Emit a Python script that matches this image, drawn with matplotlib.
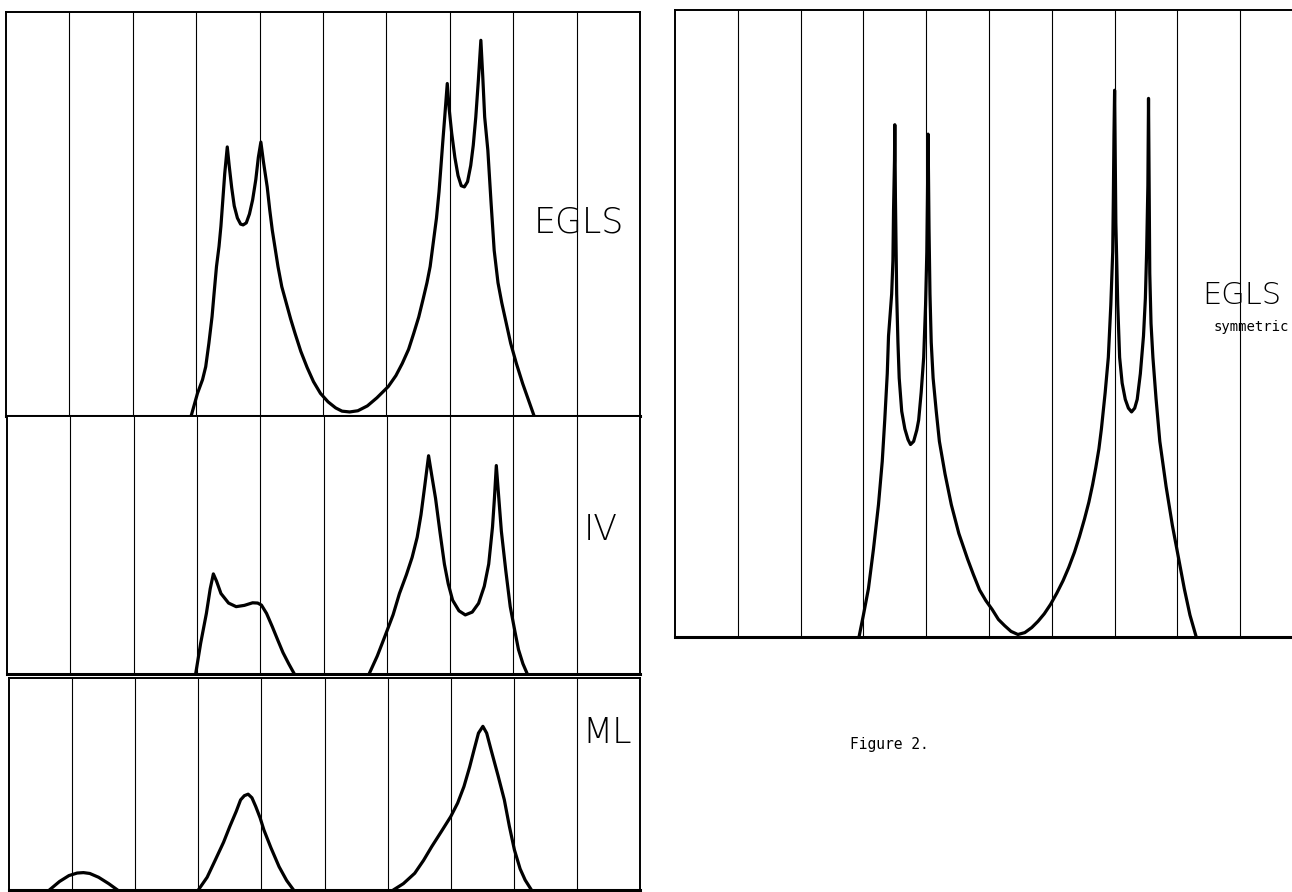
import matplotlib
matplotlib.use('Agg')
import matplotlib.pyplot as plt

# x in grid units (10 columns per panel), y as fraction of panel height

# --- EGLS (top left) ---
egls_x = [2.92, 3.02, 3.10, 3.15, 3.20, 3.25, 3.28, 3.32, 3.36, 3.39, 3.42, 3.45, 3.49,
          3.52, 3.56, 3.60, 3.65, 3.70, 3.74, 3.79, 3.84, 3.89, 3.94, 3.98, 4.02,
          4.06, 4.12, 4.16, 4.20, 4.25, 4.29, 4.35, 4.42, 4.49, 4.56, 4.65, 4.75, 4.85, 4.96,
          5.08, 5.20, 5.30, 5.42, 5.55, 5.70, 5.85, 6.03, 6.15, 6.25, 6.35, 6.43, 6.51, 6.58,
          6.64, 6.69, 6.74, 6.79, 6.83, 6.86, 6.89, 6.92, 6.96,
          6.99, 7.03, 7.08, 7.13, 7.18, 7.23, 7.28, 7.33, 7.37, 7.41, 7.45, 7.49,
          7.52, 7.55, 7.60, 7.65, 7.70, 7.76, 7.82, 7.89, 7.96, 8.05, 8.15, 8.24, 8.33]
egls_y = [0.0, 0.056, 0.09, 0.122, 0.18, 0.246, 0.30, 0.37, 0.42, 0.47, 0.535, 0.60, 0.666,
          0.62, 0.565, 0.52, 0.49, 0.475, 0.473, 0.478, 0.50, 0.535, 0.585, 0.64, 0.678,
          0.63, 0.567, 0.51, 0.46, 0.41, 0.37, 0.32, 0.28, 0.24, 0.204, 0.16, 0.12, 0.085, 0.056,
          0.035, 0.02, 0.012, 0.01, 0.013, 0.025, 0.045, 0.073, 0.10, 0.13, 0.165, 0.204, 0.245, 0.29,
          0.33, 0.37, 0.43, 0.49, 0.555, 0.617, 0.68, 0.74, 0.823,
          0.76, 0.70, 0.64, 0.595, 0.57, 0.567, 0.58, 0.62, 0.67, 0.74, 0.83, 0.93,
          0.84, 0.74, 0.658, 0.53, 0.41, 0.33, 0.28, 0.23, 0.18, 0.13, 0.08, 0.04, 0.0]

# --- IV (middle left) ---
iv1_x = [2.98, 3.06, 3.15, 3.21, 3.26, 3.31, 3.38, 3.50, 3.62, 3.75, 3.88, 3.96, 4.02, 4.10,
         4.19, 4.28, 4.36, 4.45, 4.54]
iv1_y = [0.0, 0.12, 0.235, 0.33, 0.388, 0.36, 0.312, 0.275, 0.261, 0.266, 0.276, 0.275, 0.267, 0.235,
         0.184, 0.13, 0.083, 0.04, 0.0]
iv2_x = [5.72, 5.85, 5.97, 6.10, 6.20, 6.31, 6.40, 6.48, 6.54, 6.60, 6.66, 6.71, 6.77, 6.84,
         6.91, 6.97, 7.04, 7.14, 7.24, 7.35, 7.45, 7.54, 7.61, 7.67, 7.70, 7.73, 7.77, 7.81,
         7.88, 7.95, 8.02, 8.08, 8.15, 8.22]
iv2_y = [0.0, 0.07, 0.146, 0.23, 0.312, 0.385, 0.452, 0.53, 0.617, 0.73, 0.846, 0.77, 0.681, 0.55,
         0.426, 0.35, 0.286, 0.245, 0.229, 0.24, 0.274, 0.34, 0.426, 0.57, 0.68, 0.808, 0.68, 0.553,
         0.40, 0.261, 0.17, 0.095, 0.04, 0.0]

# --- ML (bottom left) ---
ml1_x = [0.48, 0.64, 0.80, 0.95, 1.08, 1.18, 1.28, 1.42, 1.58, 1.72, 1.85]
ml1_y = [-0.05, 0.0, 0.04, 0.068, 0.08, 0.082, 0.078, 0.06, 0.03, 0.0, -0.04]
ml2_x = [3.00, 3.14, 3.27, 3.40, 3.50, 3.60, 3.67, 3.73, 3.79, 3.85, 3.91, 3.98, 4.04, 4.15,
         4.28, 4.40, 4.51]
ml2_y = [0.0, 0.06, 0.142, 0.225, 0.30, 0.37, 0.425, 0.445, 0.452, 0.435, 0.394, 0.34, 0.283, 0.20,
         0.11, 0.045, 0.0]
ml3_x = [6.09, 6.25, 6.43, 6.57, 6.70, 6.85, 7.00, 7.11, 7.21, 7.30, 7.37, 7.44, 7.51, 7.57,
         7.64, 7.75, 7.85, 7.93, 8.01, 8.10, 8.18, 8.28]
ml3_y = [0.0, 0.03, 0.079, 0.14, 0.205, 0.275, 0.346, 0.41, 0.488, 0.58, 0.661, 0.74, 0.772, 0.74,
         0.661, 0.54, 0.425, 0.30, 0.189, 0.10, 0.047, 0.0]

# --- EGLS symmetric (right) ---
sym_x = [2.93, 3.00, 3.08, 3.16, 3.24, 3.30, 3.34, 3.38, 3.40, 3.43, 3.45, 3.47, 3.48, 3.495,
         3.50, 3.51, 3.53, 3.55, 3.57, 3.61, 3.66, 3.71, 3.75, 3.80, 3.85, 3.88, 3.92, 3.96,
         3.99, 4.01, 4.02, 4.03, 4.045, 4.06, 4.08, 4.11, 4.16, 4.21, 4.30, 4.40, 4.52, 4.66,
         4.75, 4.85, 4.95, 5.05, 5.15, 5.25, 5.35, 5.46, 5.57, 5.68, 5.78, 5.88, 5.98, 6.08,
         6.18, 6.27, 6.36, 6.44, 6.52, 6.59, 6.65, 6.70, 6.75, 6.79, 6.85, 6.90,
         6.94, 6.97, 6.98, 6.99, 7.00, 7.02, 7.05, 7.08, 7.12, 7.17, 7.22, 7.27, 7.32, 7.36,
         7.41, 7.46, 7.49, 7.51, 7.53, 7.54, 7.55, 7.56, 7.58, 7.61, 7.66, 7.72, 7.82, 7.92,
         8.02, 8.11, 8.20, 8.30]
sym_y = [0.0, 0.035, 0.077, 0.14, 0.211, 0.28, 0.346, 0.42, 0.48, 0.52, 0.547, 0.60, 0.681, 0.76,
         0.817, 0.70, 0.547, 0.47, 0.413, 0.36, 0.332, 0.315, 0.307, 0.312, 0.33, 0.346, 0.39, 0.446,
         0.53, 0.614, 0.70, 0.802, 0.65, 0.547, 0.47, 0.413, 0.36, 0.312, 0.26, 0.211, 0.165, 0.124,
         0.10, 0.075, 0.058, 0.044, 0.028, 0.018, 0.009, 0.004, 0.007, 0.015, 0.025, 0.037, 0.052, 0.07,
         0.09, 0.111, 0.135, 0.16, 0.188, 0.215, 0.243, 0.27, 0.30, 0.332, 0.39, 0.446,
         0.53, 0.614, 0.70, 0.80, 0.872, 0.66, 0.53, 0.446, 0.405, 0.379, 0.365, 0.359, 0.365, 0.379,
         0.42, 0.48, 0.54, 0.614, 0.72, 0.859, 0.72, 0.58, 0.50, 0.446, 0.38, 0.312, 0.24, 0.178,
         0.125, 0.077, 0.035, 0.0]

LINE_KW = dict(color='black', lw=2.3, solid_capstyle='round', solid_joinstyle='round')
LABEL_KW = dict(fontsize=25, fontweight='light', family='DejaVu Sans', color='black')


def setup_panel(fig, rect):
    ax = fig.add_axes(rect)
    ax.set_xlim(0, 10)
    ax.set_ylim(0, 1)
    for g in range(1, 10):
        ax.axvline(g, color='black', lw=0.8)
    for s in ax.spines.values():
        s.set_linewidth(1.4)
    ax.spines['bottom'].set_linewidth(2.2)
    ax.set_xticks([])
    ax.set_yticks([])
    return ax


fig = plt.figure(figsize=(12.92, 8.92), dpi=100)
W, H = 1292.0, 892.0


def rect(left, top, right, bottom):
    return [left / W, 1 - bottom / H, (right - left) / W, (bottom - top) / H]


ax1 = setup_panel(fig, rect(6, 12, 640, 416))
ax1.plot(egls_x, egls_y, **LINE_KW)
ax1.text(9.03, 0.48, 'EGLS', ha='center', va='center', **LABEL_KW)

ax2 = setup_panel(fig, rect(7, 416, 640, 674))
ax2.plot(iv1_x, iv1_y, **LINE_KW)
ax2.plot(iv2_x, iv2_y, **LINE_KW)
ax2.text(9.38, 0.56, 'IV', ha='center', va='center', **LABEL_KW)

ax3 = setup_panel(fig, rect(9, 678, 640, 890))
ax3.plot(ml1_x, ml1_y, **LINE_KW)
ax3.plot(ml2_x, ml2_y, **LINE_KW)
ax3.plot(ml3_x, ml3_y, **LINE_KW)
ax3.text(9.48, 0.74, 'ML', ha='center', va='center', **LABEL_KW)

ax4 = setup_panel(fig, rect(675, 10, 1303, 637))
ax4.plot(sym_x, sym_y, **LINE_KW)
ax4.text(8.40, 0.545, 'EGLS', ha='left', va='center', fontsize=22,
         fontweight='light', family='DejaVu Sans', color='black')
ax4.text(8.58, 0.495, 'symmetric', ha='left', va='center', fontsize=10,
         family='DejaVu Sans Mono', color='black')

fig.text(850 / W, 1 - 745 / H, 'Figure 2.', ha='left', va='center', fontsize=10.5,
         family='DejaVu Sans Mono', color='black')

fig.savefig('out.png', dpi=100, facecolor='white')
